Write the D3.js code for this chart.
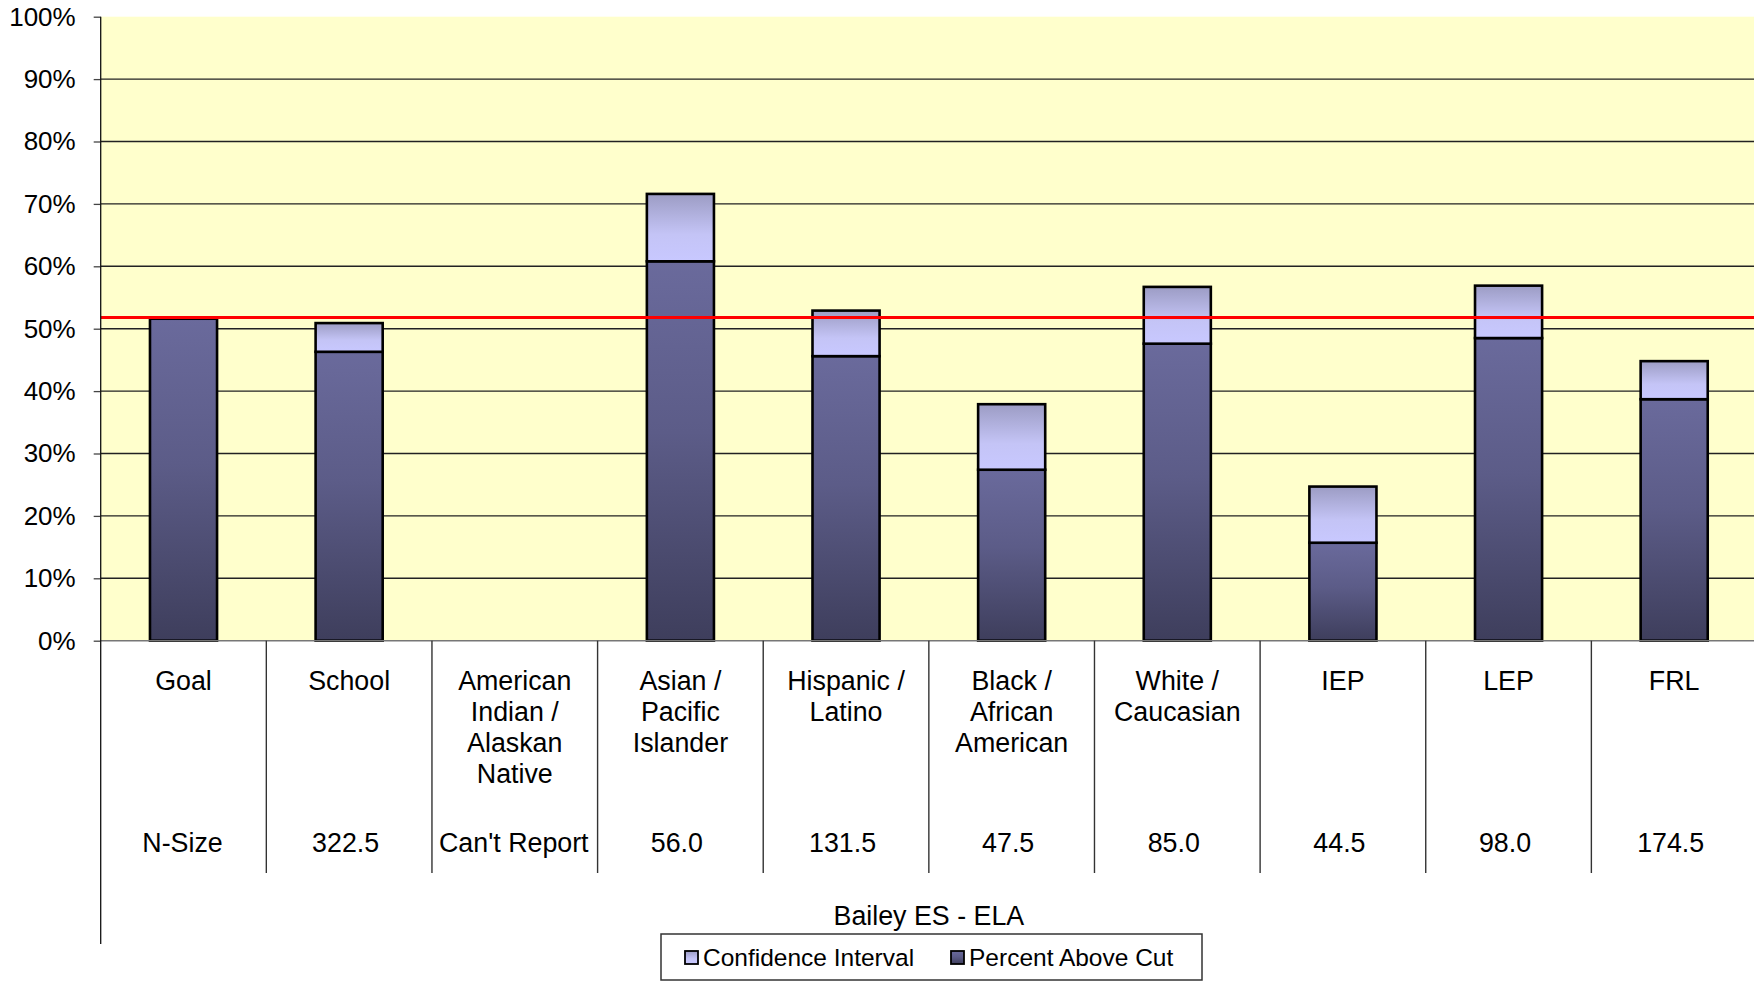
<!DOCTYPE html>
<html>
<head>
<meta charset="utf-8">
<script src="https://cdn.jsdelivr.net/npm/d3@7"></script>
<style>
  html, body { margin: 0; padding: 0; background: #ffffff; }
  svg { display: block; }
  text { font-family: "Liberation Sans", Arial, sans-serif; fill: #000; }
</style>
</head>
<body>
<svg id="chart" width="1754" height="982"></svg>
<script>
// ---- data ----
const categories = ["Goal", "School", "American Indian / Alaskan Native", "Asian / Pacific Islander",
  "Hispanic / Latino", "Black / African American", "White / Caucasian", "IEP", "LEP", "FRL"];
const categoryLines = [
  ["Goal"], ["School"], ["American", "Indian /", "Alaskan", "Native"], ["Asian /", "Pacific", "Islander"],
  ["Hispanic /", "Latino"], ["Black /", "African", "American"], ["White /", "Caucasian"], ["IEP"], ["LEP"], ["FRL"]
];
const percentAboveCut = [51.6, 46.3, null, 60.8, 45.6, 27.4, 47.6, 15.7, 48.5, 38.7];
const ciUpper = [null, 50.9, null, 71.6, 52.9, 37.9, 56.7, 24.7, 56.9, 44.8];
const nSize = ["N-Size", "322.5", "Can't Report", "56.0", "131.5", "47.5", "85.0", "44.5", "98.0", "174.5"];
const goalLine = 51.8;
const yTicks = [0, 10, 20, 30, 40, 50, 60, 70, 80, 90, 100];
const chartTitle = "Bailey ES - ELA";
const legendLabels = ["Confidence Interval", "Percent Above Cut"];

(function () {
// ---- layout ----
const svg = d3.select("#chart");
const pLeft = 100.7, pRight = 1757, pTop = 16.7, pBottom = 640.7;
const tableBottom = 873, axisBottom = 944;

const x = d3.scaleBand().domain(categories).range([pLeft, pRight]).paddingInner(0.595).paddingOuter(0.2975);
const step = x.step();
const y = d3.scaleLinear().domain([0, 100]).range([pBottom, pTop]);

const defs = svg.append("defs");
const gBase = defs.append("linearGradient").attr("id", "gBase").attr("x1", 0).attr("y1", 0).attr("x2", 0).attr("y2", 1);
gBase.append("stop").attr("offset", "0%").attr("stop-color", "#6a6a9c");
gBase.append("stop").attr("offset", "45%").attr("stop-color", "#5c5c88");
gBase.append("stop").attr("offset", "100%").attr("stop-color", "#3e3e5c");
const gCI = defs.append("linearGradient").attr("id", "gCI").attr("x1", 0).attr("y1", 0).attr("x2", 0).attr("y2", 1);
gCI.append("stop").attr("offset", "0%").attr("stop-color", "#9c9cc4");
gCI.append("stop").attr("offset", "60%").attr("stop-color", "#c4c4f6");
gCI.append("stop").attr("offset", "100%").attr("stop-color", "#c8c8ff");

// plot background
svg.append("rect").attr("x", pLeft).attr("y", pTop).attr("width", pRight - pLeft).attr("height", pBottom - pTop)
  .attr("fill", "#ffffcc");

// gridlines
svg.append("g").selectAll("line").data(yTicks.filter(d => d > 0 && d < 100)).join("line")
  .attr("x1", pLeft).attr("x2", pRight).attr("y1", d => y(d)).attr("y2", d => y(d))
  .attr("stroke", "#222").attr("stroke-width", 1.4);

// bars: base
const idx = d3.range(categories.length);
svg.append("g").selectAll("rect").data(idx.filter(i => percentAboveCut[i] != null)).join("rect")
  .attr("x", i => x(categories[i])).attr("width", x.bandwidth())
  .attr("y", i => y(percentAboveCut[i])).attr("height", i => y(0) - y(percentAboveCut[i]))
  .attr("fill", "url(#gBase)").attr("stroke", "#000").attr("stroke-width", 2.6);
// bars: confidence interval
svg.append("g").selectAll("rect").data(idx.filter(i => ciUpper[i] != null)).join("rect")
  .attr("x", i => x(categories[i])).attr("width", x.bandwidth())
  .attr("y", i => y(ciUpper[i])).attr("height", i => y(percentAboveCut[i]) - y(ciUpper[i]))
  .attr("fill", "url(#gCI)").attr("stroke", "#000").attr("stroke-width", 2.6);

// goal line
svg.append("line").attr("x1", pLeft).attr("x2", pRight).attr("y1", y(goalLine)).attr("y2", y(goalLine))
  .attr("stroke", "#ff0000").attr("stroke-width", 3);

// baseline at 0
svg.append("line").attr("x1", pLeft).attr("x2", pRight).attr("y1", y(0)).attr("y2", y(0))
  .attr("stroke", "#777").attr("stroke-width", 1.5);

// y axis
const yAxis = d3.axisLeft(y).tickValues(yTicks).tickFormat(d => d + "%").tickSize(7).tickPadding(18);
const ya = svg.append("g").attr("transform", `translate(${pLeft},0)`).call(yAxis);
ya.select(".domain").remove();
ya.selectAll(".tick line").attr("stroke", "#444").attr("stroke-width", 1.3);
ya.selectAll(".tick text").attr("font-size", 26).attr("font-family", "Liberation Sans, Arial, sans-serif").attr("fill", "#000");
svg.append("line").attr("x1", pLeft).attr("x2", pLeft).attr("y1", pTop).attr("y2", axisBottom)
  .attr("stroke", "#111").attr("stroke-width", 1.3);

// table dividers
svg.append("g").selectAll("line").data(d3.range(1, categories.length)).join("line")
  .attr("x1", k => pLeft + k * step).attr("x2", k => pLeft + k * step)
  .attr("y1", pBottom).attr("y2", tableBottom)
  .attr("stroke", "#333").attr("stroke-width", 1.4);

// category labels
const cl = svg.append("g").selectAll("text").data(idx).join("text")
  .attr("x", i => x(categories[i]) + x.bandwidth() / 2).attr("y", 690)
  .attr("text-anchor", "middle").attr("font-size", 26.8);
cl.selectAll("tspan").data(i => categoryLines[i].map(t => ({ t, i }))).join("tspan")
  .attr("x", d => x(categories[d.i]) + x.bandwidth() / 2)
  .attr("dy", (d, j) => j === 0 ? 0 : 31).text(d => d.t);

// n-size row
svg.append("g").selectAll("text").data(idx).join("text")
  .attr("x", i => x(categories[i]) + x.bandwidth() / 2 - (isNaN(+nSize[i]) ? 1 : 3.5)).attr("y", 852)
  .attr("text-anchor", "middle").attr("font-size", 26.8).text(i => nSize[i]);

// title
svg.append("text").attr("x", (pLeft + pRight) / 2).attr("y", 925).attr("text-anchor", "middle")
  .attr("font-size", 26.8).text(chartTitle);

// legend
const lg = svg.append("g");
lg.append("rect").attr("x", 661).attr("y", 934).attr("width", 541).attr("height", 46)
  .attr("fill", "#fff").attr("stroke", "#333").attr("stroke-width", 1.5);
const legendItems = [
  { label: legendLabels[0], fill: "url(#gCI)", sx: 685 },
  { label: legendLabels[1], fill: "url(#gBase)", sx: 951 }
];
legendItems.forEach(it => {
  lg.append("rect").attr("x", it.sx).attr("y", 951).attr("width", 13).attr("height", 13)
    .attr("fill", it.fill).attr("stroke", "#000").attr("stroke-width", 1.8);
  lg.append("text").attr("x", it.sx + 18).attr("y", 966).attr("font-size", 24.5).text(it.label);
});
})();
</script>
</body>
</html>
